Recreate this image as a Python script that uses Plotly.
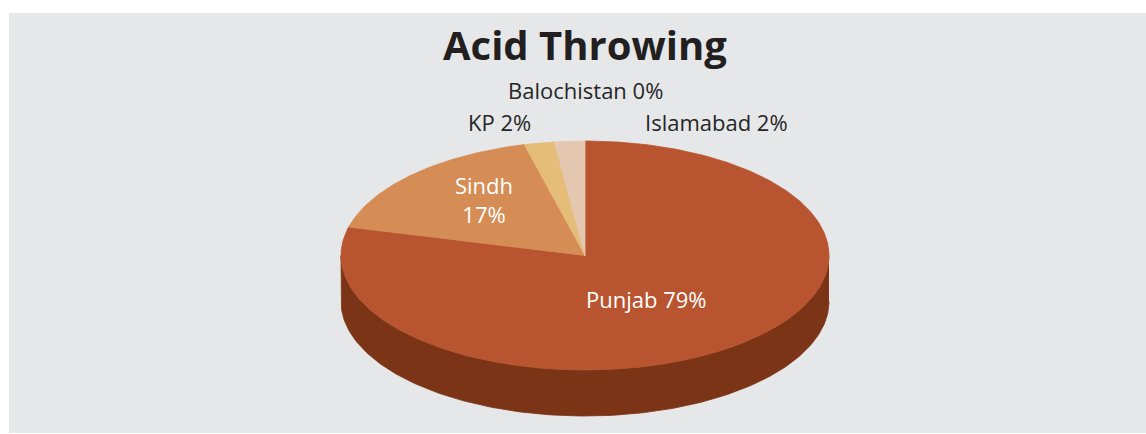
import numpy as np
import plotly.graph_objects as go

# ---- data ----
regions = ["Punjab", "Sindh", "KP", "Balochistan", "Islamabad"]
shares = [79, 17, 2, 0, 2]
title_text = "Acid Throwing"

# ---- style ----
top_colors = ["#B85530", "#D68C55", "#E5BD79", "#C9A27A", "#E3C7B1"]
side_colors = ["#7B3415", "#9A5A2C", "#A8844C", "#8F6F52", "#A58C78"]
bg = "#E6E7E8"

W, H = 1146, 434
CX, CY, RX, RY, DEPTH = 585, 255.5, 244, 114.5, 46

total = float(sum(shares))
fracs = [s / total for s in shares]
starts = np.cumsum([0] + fracs[:-1]) * 2 * np.pi
ends = np.cumsum(fracs) * 2 * np.pi


def ex(t):
    return CX + RX * np.sin(t)


def ey(t, dz=0.0):
    return CY - RY * np.cos(t) + dz


fig = go.Figure()

# side walls (only the front half, angles pi/2..3pi/2 clockwise from top)
for i, (a0, a1) in enumerate(zip(starts, ends)):
    s0, s1 = max(a0, np.pi / 2), min(a1, 3 * np.pi / 2)
    if s1 <= s0:
        continue
    n = max(int((s1 - s0) / (2 * np.pi) * 400), 4)
    t = np.linspace(s0, s1, n)
    xs = np.concatenate([ex(t), ex(t[::-1])])
    ys = np.concatenate([ey(t), ey(t[::-1], DEPTH)])
    fig.add_trace(go.Scatter(x=xs, y=ys, fill="toself", mode="lines",
                             fillcolor=side_colors[i],
                             line=dict(color=side_colors[i], width=0.8),
                             hoverinfo="skip", showlegend=False))

# top faces
for i, (a0, a1) in enumerate(zip(starts, ends)):
    if a1 - a0 <= 0:
        continue
    n = max(int((a1 - a0) / (2 * np.pi) * 600), 4)
    t = np.linspace(a0, a1, n)
    xs = np.concatenate([[CX], ex(t), [CX]])
    ys = np.concatenate([[CY], ey(t), [CY]])
    fig.add_trace(go.Scatter(x=xs, y=ys, fill="toself", mode="lines",
                             fillcolor=top_colors[i],
                             line=dict(color=top_colors[i], width=0.8),
                             hoverinfo="skip", showlegend=False,
                             name=regions[i]))

# labels
font_family = "Open Sans, Lato, sans-serif"
mids = (starts + ends) / 2
inside = {"Punjab": (0.41, -6), "Sindh": (0.585, 9)}
outside_shift = {"KP": (-40, 21), "Balochistan": (31, 52), "Islamabad": (147, 19)}
for i, name in enumerate(regions):
    pct = f"{shares[i] / total * 100:.0f}%"
    m = mids[i]
    if name in inside:
        f, dy = inside[name]
        txt = f"{name}<br>{pct}" if name == "Sindh" else f"{name} {pct}"
        fig.add_annotation(x=CX + f * RX * np.sin(m), y=CY - f * RY * np.cos(m),
                           yshift=dy, text=txt, showarrow=False, xref="x", yref="y",
                           font=dict(family=font_family, size=22, color="white"))
    else:
        dx, dy = outside_shift[name]
        fig.add_annotation(x=ex(m), y=ey(m), xshift=dx, yshift=dy,
                           text=f"{name} {pct}", showarrow=False, xref="x", yref="y",
                           font=dict(family=font_family, size=22, color="#262626"))

fig.add_annotation(x=CX, y=44, text=f"<b>{title_text}</b>", showarrow=False,
                   xref="x", yref="y",
                   font=dict(family=font_family, size=40, color="#231F20"))

fig.update_layout(
    width=W, height=H,
    margin=dict(l=9, r=0, t=13, b=1),
    paper_bgcolor="white", plot_bgcolor=bg,
    xaxis=dict(range=[9, W], visible=False, fixedrange=True),
    yaxis=dict(range=[H - 1, 13], visible=False, fixedrange=True),
    showlegend=False,
)

fig.write_html("out.html", config={"displayModeBar": False},
               post_script="document.body.style.margin='0';document.body.style.overflow='hidden';")
